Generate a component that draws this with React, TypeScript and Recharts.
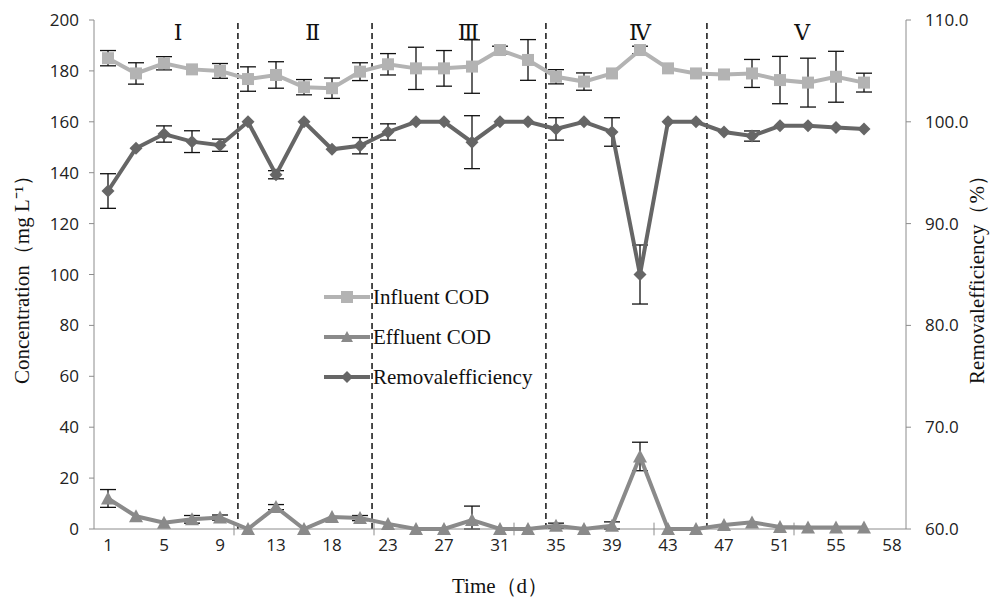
import React from "react";
import {
  ComposedChart,
  Line,
  XAxis,
  YAxis,
  ErrorBar,
  ReferenceLine,
  Legend,
} from "recharts";

// sampling days (category labels; only every other one is printed)
const days = [1, 3, 5, 7, 9, 11, 13, 16, 18, 21, 23, 25, 27, 29, 31, 33, 35, 37, 39, 41, 43, 45, 47, 49, 51, 53, 55, 57, 58];

const influent = [185, 179, 183, 180.6, 180, 176.8, 178.4, 173.6, 173.2, 179.7, 182.6, 181, 181, 181.7, 188.2, 184.3, 177.7, 175.8, 179, 188.2, 181, 179, 178.6, 179, 176.4, 175.4, 177.7, 175.4];
const influentErr = [3, 4.2, 2.6, 0, 2.9, 4.8, 5.2, 3, 4, 3.5, 4.2, 8.3, 7, 10.5, 1.5, 8, 2.8, 3.4, 0, 1.5, 0, 0, 0, 5.5, 9.3, 9.6, 10, 3.7];

const effluent = [12, 5, 2.5, 3.8, 4.5, 0, 8.6, 0, 4.7, 4.3, 2, 0, 0, 3.5, 0, 0, 1.3, 0, 1.3, 28.5, 0, 0, 1.6, 2.6, 0.8, 0.6, 0.6, 0.6];
const effluentErr: (number | number[])[] = [3.5, 0, 0, 1.5, 1, 0, 1, 0, 0, 1, 0, 0, 0, [3.5, 5.5], 0, 0, 1, 0, [1.3, 1.5], 5.6, 0, 0, 0, 0, 0, 0, 0, 0];

const removal = [93.2, 97.4, 98.8, 98.05, 97.7, 100, 94.8, 100, 97.3, 97.65, 99.0, 100, 100, 98.0, 100, 100, 99.3, 100, 99.0, 85.0, 100, 100, 99.0, 98.6, 99.6, 99.6, 99.45, 99.3];
const removalErr = [1.7, 0, 0.8, 1.07, 0.6, 0, 0.4, 0, 0, 0.8, 0.8, 0, 0, 2.6, 0, 0, 1.1, 0, 1.4, 2.9, 0, 0, 0, 0.5, 0, 0, 0, 0];

// phase boundaries and phase labels (in category index units)
const phaseBounds = [4.64, 9.43, 15.64, 21.39];
const phaseLabels = ["Ⅰ", "Ⅱ", "Ⅲ", "Ⅳ", "Ⅴ"];
const phaseLabelPos = [2.5, 7.31, 12.87, 19.0, 24.79];

const leftTicks = [0, 20, 40, 60, 80, 100, 120, 140, 160, 180, 200];
const rightTicks = [60, 70, 80, 90, 100, 110];
const xTicks = [0, 2, 4, 6, 8, 10, 12, 14, 16, 18, 20, 22, 24, 26, 28];
const xMarks = [4.5, 9.5, 14.5, 19.5, 24.5];

const C_IN = "#b3b3b3";
const C_EF = "#8a8a8a";
const C_RE = "#666666";
const AXIS = "#8c8c8c";
const SERIF = "'Liberation Serif', 'Times New Roman', serif";
const SANS = "'Open Sans', sans-serif";

const data = influent.map((v, i) => ({
  idx: i,
  influent: v,
  influentErr: influentErr[i],
  effluent: effluent[i],
  effluentErr: effluentErr[i],
  removal: removal[i],
  removalErr: removalErr[i],
}));

function Square(p: any) {
  if (p.cx == null) return null;
  return <rect x={p.cx - 6} y={p.cy - 6} width={12} height={12} fill={C_IN} />;
}
function Triangle(p: any) {
  if (p.cx == null) return null;
  const { cx, cy } = p;
  return <path d={`M${cx},${cy - 7} L${cx + 7},${cy + 6} L${cx - 7},${cy + 6} Z`} fill={C_EF} />;
}
function Diamond(p: any) {
  if (p.cx == null) return null;
  const { cx, cy } = p;
  return <path d={`M${cx},${cy - 6.5} L${cx + 6.5},${cy} L${cx},${cy + 6.5} L${cx - 6.5},${cy} Z`} fill={C_RE} />;
}

const legendRows = [
  { name: "Influent COD", color: C_IN, shape: "square" },
  { name: "Effluent COD", color: C_EF, shape: "triangle" },
  { name: "Removalefficiency", color: C_RE, shape: "diamond" },
];

function renderLegend() {
  return (
    <div style={{ fontFamily: SERIF, fontSize: 21, color: "#111" }}>
      {legendRows.map((r) => (
        <div key={r.name} style={{ display: "flex", alignItems: "center", height: 40 }}>
          <svg width={46} height={16} style={{ marginRight: 3 }}>
            <line x1={0} y1={8} x2={46} y2={8} stroke={r.color} strokeWidth={4} />
            {r.shape === "square" && <rect x={17} y={2} width={12} height={12} fill={r.color} />}
            {r.shape === "triangle" && <path d="M23,2 L29,13 L17,13 Z" fill={r.color} />}
            {r.shape === "diamond" && <path d="M23,2 L29,8 L23,14 L17,8 Z" fill={r.color} />}
          </svg>
          <span>{r.name}</span>
        </div>
      ))}
    </div>
  );
}

export default function App() {
  return (
    <div style={{ width: 991, height: 592, background: "#fff" }}>
      <ComposedChart width={991} height={592} data={data} margin={{ top: 12, right: 0, left: 0, bottom: 0 }}>
        <XAxis
          dataKey="idx"
          type="number"
          domain={[-0.5, 28.5]}
          ticks={xTicks}
          interval={0}
          tickFormatter={(i: number) => String(days[i])}
          stroke={AXIS}
          tickLine={false}
          tickSize={0}
          tickMargin={10}
          tick={{ fontSize: 17, fill: "#222", fontFamily: SANS }}
          height={71}
          label={{ value: "Time（d）", position: "insideBottom", offset: 7, style: { fontFamily: SERIF, fontSize: 21, fill: "#111" } }}
        />
        <YAxis
          yAxisId="left"
          domain={[0, 200]}
          ticks={leftTicks}
          interval={0}
          width={86}
          stroke={AXIS}
          tickSize={5}
          tickMargin={10}
          tick={{ fontSize: 17, fill: "#222", fontFamily: SANS }}
          label={{ value: "Concentration（mg L⁻¹）", angle: -90, position: "insideLeft", offset: 14, style: { textAnchor: "middle", fontFamily: SERIF, fontSize: 21, fill: "#111" } }}
        />
        <YAxis
          yAxisId="right"
          orientation="right"
          domain={[60, 110]}
          ticks={rightTicks}
          interval={0}
          width={93}
          stroke={AXIS}
          tickSize={5}
          tickMargin={14}
          tickFormatter={(v: number) => v.toFixed(1)}
          tick={{ fontSize: 17, fill: "#222", fontFamily: SANS }}
          label={{ value: "Removalefficiency（%）", angle: -90, position: "insideRight", offset: 22, style: { textAnchor: "middle", fontFamily: SERIF, fontSize: 21, fill: "#111" } }}
        />

        {phaseBounds.map((b) => (
          <ReferenceLine key={"b" + b} x={b} yAxisId="left" stroke="#111" strokeWidth={1.5} strokeDasharray="6 4" />
        ))}
        {phaseLabels.map((t, i) => (
          <ReferenceLine
            key={t}
            x={phaseLabelPos[i]}
            yAxisId="left"
            stroke="none"
            label={{ value: t, position: "insideTop", offset: 4, style: { fontFamily: "'DejaVu Serif', serif", fontSize: 22, fill: "#111" } }}
          />
        ))}
        {xMarks.map((m) => (
          <ReferenceLine
            key={"m" + m}
            yAxisId="left"
            ifOverflow="visible"
            segment={[{ x: m, y: -2.5 }, { x: m, y: 2.5 }]}
            stroke={AXIS}
            strokeWidth={1}
          />
        ))}

        <Line
          yAxisId="left"
          dataKey="influent"
          name="Influent COD"
          type="linear"
          stroke={C_IN}
          strokeWidth={4}
          dot={<Square />}
          activeDot={false}
          isAnimationActive={false}
        >
          <ErrorBar dataKey="influentErr" width={8} stroke="#111" strokeWidth={1.3} direction="y" />
        </Line>
        <Line
          yAxisId="left"
          dataKey="effluent"
          name="Effluent COD"
          type="linear"
          stroke={C_EF}
          strokeWidth={4}
          dot={<Triangle />}
          activeDot={false}
          isAnimationActive={false}
        >
          <ErrorBar dataKey="effluentErr" width={8} stroke="#111" strokeWidth={1.3} direction="y" />
        </Line>
        <Line
          yAxisId="right"
          dataKey="removal"
          name="Removalefficiency"
          type="linear"
          stroke={C_RE}
          strokeWidth={4}
          dot={<Diamond />}
          activeDot={false}
          isAnimationActive={false}
        >
          <ErrorBar dataKey="removalErr" width={8} stroke="#111" strokeWidth={1.3} direction="y" />
        </Line>

        <Legend
          layout="vertical"
          align="center"
          verticalAlign="middle"
          content={renderLegend}
          wrapperStyle={{ left: 316, top: 269, width: 260, height: 120 }}
        />
      </ComposedChart>
    </div>
  );
}
